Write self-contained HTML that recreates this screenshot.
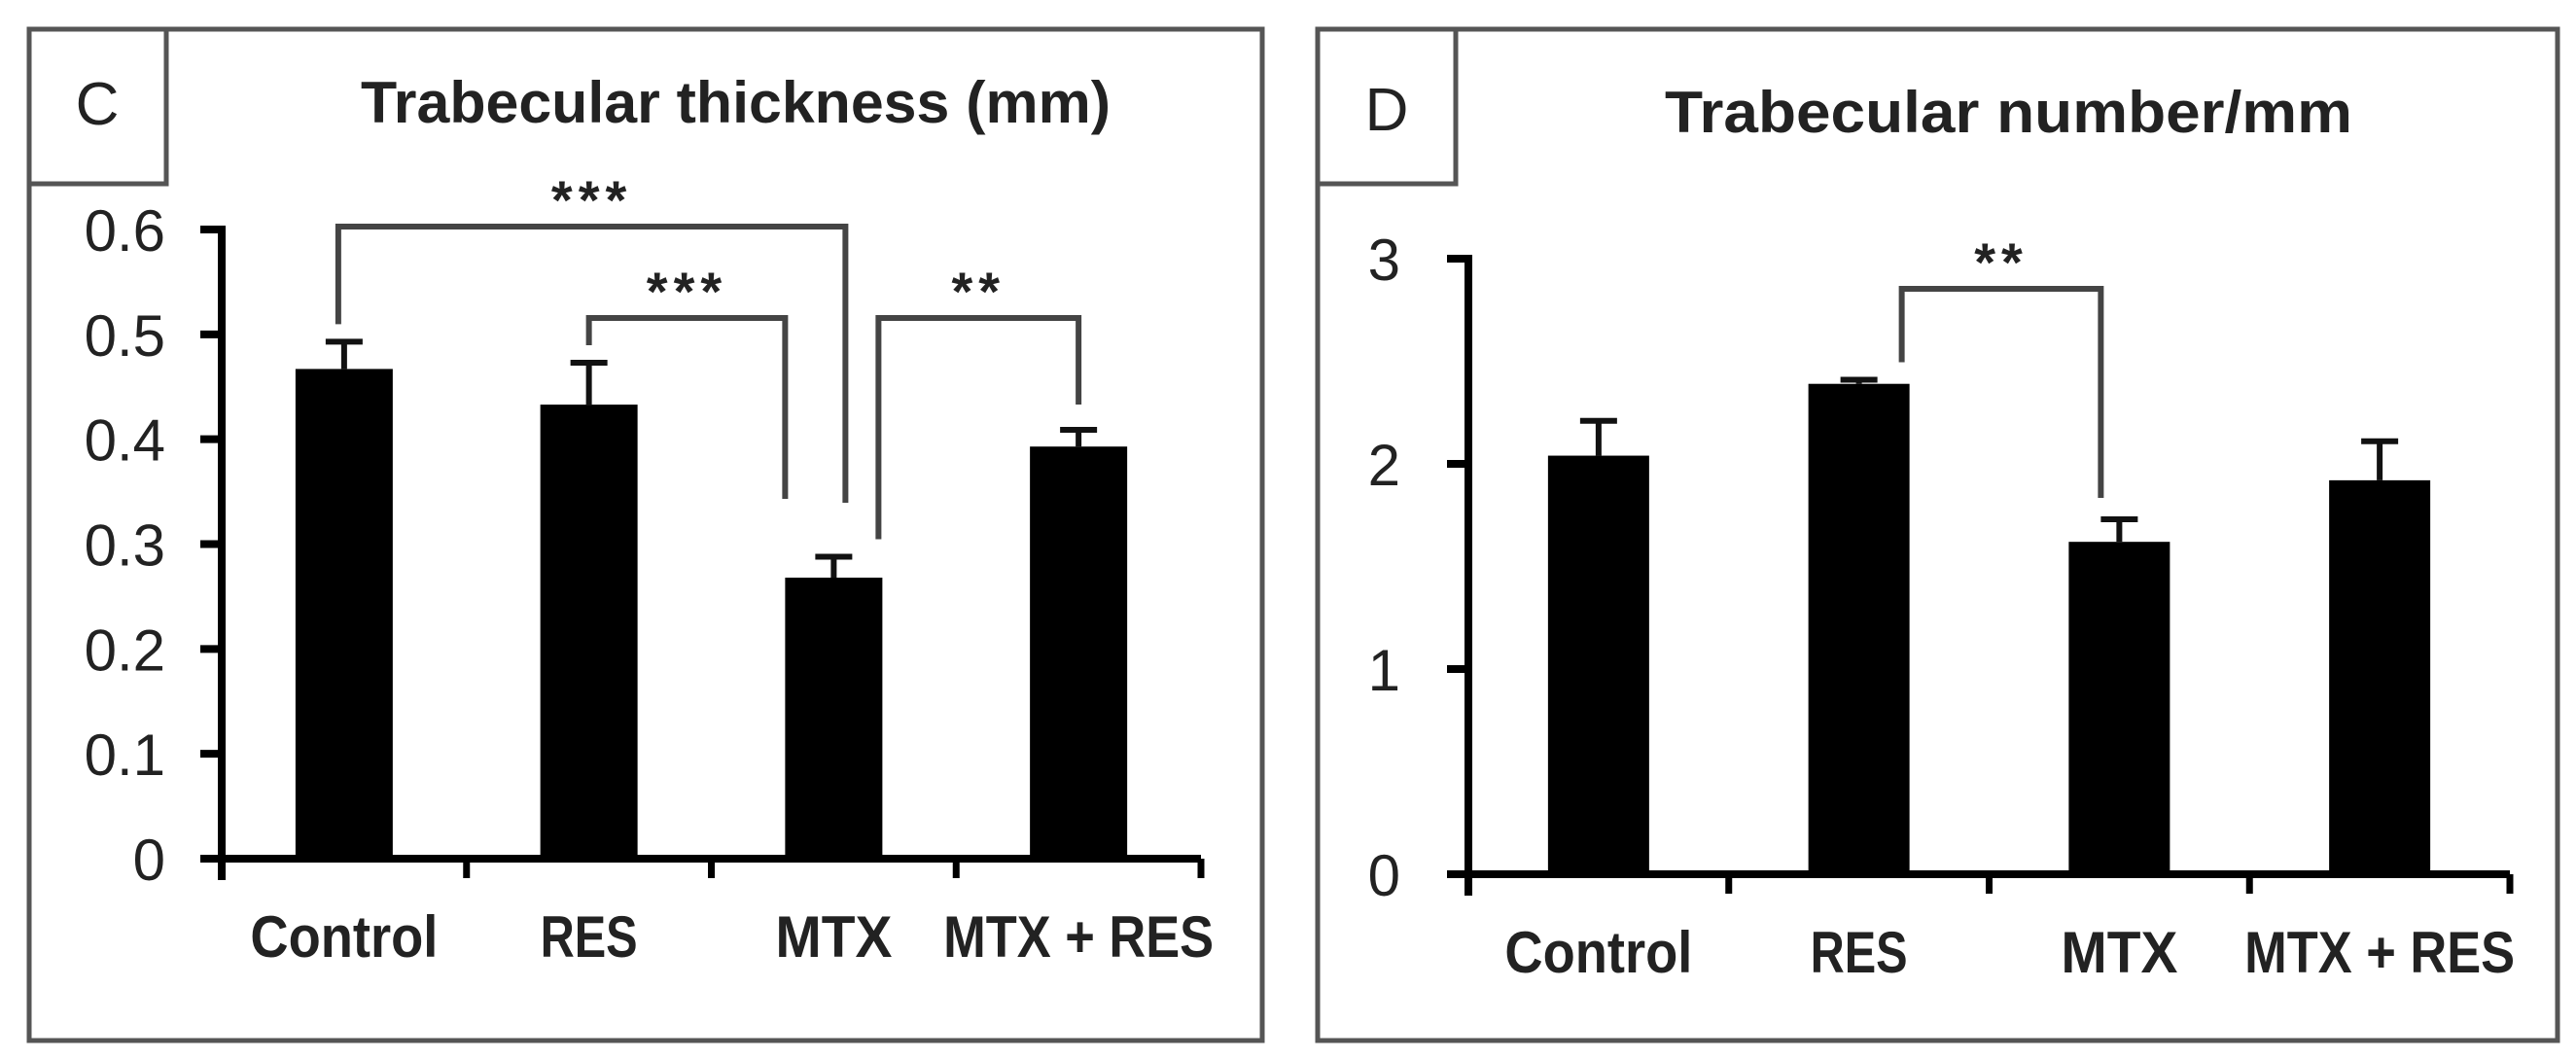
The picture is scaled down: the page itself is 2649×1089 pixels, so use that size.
<!DOCTYPE html>
<html><head><meta charset="utf-8"><style>
html,body{margin:0;padding:0;background:#fff;}
svg{display:block;}
text{font-family:"Liberation Sans",sans-serif;fill:#222;}
</style></head><body>
<svg id="fig" width="2649" height="1089" viewBox="0 0 2649 1089" xmlns="http://www.w3.org/2000/svg">
<rect x="0" y="0" width="2649" height="1089" fill="#fff"/>
<g id="panelC">
  <rect x="30" y="30" width="1268" height="1040" fill="none" stroke="#555" stroke-width="5"/>
  <rect x="30" y="30" width="141" height="159" fill="none" stroke="#555" stroke-width="5"/>
  <text x="100" y="128" font-size="62" text-anchor="middle" fill="#333">C</text>
  <text x="371" y="126" font-size="60" font-weight="bold" textLength="771" lengthAdjust="spacingAndGlyphs">Trabecular  thickness (mm)</text>
</g>
<g id="panelD">
  <rect x="1355" y="30" width="1275" height="1040" fill="none" stroke="#555" stroke-width="5"/>
  <rect x="1355" y="30" width="142" height="159" fill="none" stroke="#555" stroke-width="5"/>
  <text x="1426" y="134" font-size="62" text-anchor="middle" fill="#333">D</text>
  <text x="1712" y="136" font-size="60" font-weight="bold" textLength="707" lengthAdjust="spacingAndGlyphs">Trabecular  number/mm</text>
</g>
</svg>
<script>
// Panel C data
const catsC = ["Control", "RES", "MTX", "MTX + RES"];
const valsC = [0.467, 0.433, 0.268, 0.393];
const errC = [0.026, 0.040, 0.020, 0.016];
const ticksC = [0, 0.1, 0.2, 0.3, 0.4, 0.5, 0.6];
const tickLabelsC = ["0", "0.1", "0.2", "0.3", "0.4", "0.5", "0.6"];
// significance brackets: [fromIndex, toIndex, label]
const sigFromC = [0, 1, 2];
const sigToC = [2, 2, 3];
const sigLabelC = ["***", "***", "**"];

// Panel D data
const catsD = ["Control", "RES", "MTX", "MTX + RES"];
const valsD = [2.04, 2.39, 1.62, 1.92];
const errD = [0.17, 0.02, 0.11, 0.19];
const ticksD = [0, 1, 2, 3];
const tickLabelsD = ["0", "1", "2", "3"];
const sigFromD = [1];
const sigToD = [2];
const sigLabelD = ["**"];

const NS = "http://www.w3.org/2000/svg";
function mk(parent, tag, attrs) {
  const e = document.createElementNS(NS, tag);
  for (const k in attrs) e.setAttribute(k, attrs[k]);
  parent.appendChild(e);
  return e;
}

function drawPanel(g, cfg) {
  const y = v => cfg.y0 - (v - cfg.vmin) / (cfg.vmax - cfg.vmin) * (cfg.y0 - cfg.y1);
  const band = (cfg.xEnd - cfg.xAxis) / cfg.cats.length;
  const xc = i => cfg.xAxis + band * (i + 0.5);
  // bars
  cfg.vals.forEach((v, i) => {
    const r = mk(g, "rect", {x: xc(i) - cfg.bw / 2, y: y(v), width: cfg.bw, height: cfg.y0 - y(v), fill: "#000"});
    
    
    const top = y(v + cfg.err[i]);
    const e = mk(g, "path", {d: `M${xc(i)} ${y(v)} V${top} M${xc(i) - 19} ${top} H${xc(i) + 19}`, stroke: "#111", "stroke-width": 6, fill: "none"});
    
    
  });
  // y axis
  const ya = mk(g, "path", {d: `M${cfg.xAxis - 22} ${y(cfg.vmax)} H${cfg.xAxis} V${cfg.y0 + 22}`, stroke: "#000", "stroke-width": 8, fill: "none"});
  
  
  cfg.ticks.forEach((t, i) => {
    const tk = mk(g, "line", {x1: cfg.xAxis - 22, x2: cfg.xAxis, y1: y(t), y2: y(t), stroke: "#000", "stroke-width": 8});
    
    
    const tl = mk(g, "text", {x: cfg.labelRight, y: y(t) + 22, "font-size": 60, "text-anchor": "end", fill: "#333"});
    tl.textContent = cfg.tickLabels[i];
    
    
  });
  // x axis
  const xa = mk(g, "line", {x1: cfg.xAxis - 22, x2: cfg.xEnd, y1: cfg.y0, y2: cfg.y0, stroke: "#000", "stroke-width": 8});
  
  
  for (let i = 1; i <= cfg.cats.length; i++) {
    const tk = mk(g, "line", {x1: cfg.xAxis + band * i, x2: cfg.xAxis + band * i, y1: cfg.y0, y2: cfg.y0 + 20, stroke: "#000", "stroke-width": 7});
    
    
  }
  cfg.cats.forEach((c, i) => {
    const t = mk(g, "text", {x: xc(i), y: cfg.y0 + 101, "font-size": 60, "font-weight": "bold", "text-anchor": "middle", textLength: cfg.labelW[i], lengthAdjust: "spacingAndGlyphs"});
    t.textContent = c;
    
    
  });
  // brackets
  cfg.sigFrom.forEach((a, k) => {
    const b = cfg.sigTo[k];
    const by = cfg.brY[k];
    const ay = y(cfg.vals[a] + cfg.err[a]) - 18;
    const byb = cfg.brEnd[k];
    const xa1 = xc(a) + cfg.brOffA[k], xb1 = xc(b) + cfg.brOffB[k];
    const p = mk(g, "path", {d: `M${xa1} ${ay} V${by} H${xb1} V${byb}`, stroke: "#444", "stroke-width": 6, fill: "none"});
    
    
    const s = mk(g, "text", {x: (xa1 + xb1) / 2, y: by - 8, "font-size": 56, "font-weight": "bold", "text-anchor": "middle", fill: "#666", "letter-spacing": 6});
    s.textContent = cfg.sigLabel[k];
    
    
  });
}

drawPanel(document.getElementById("panelC"), {
  prefix: "c", cats: catsC, vals: valsC, err: errC, ticks: ticksC, tickLabels: tickLabelsC,
  vmin: 0, vmax: 0.6, y0: 883, y1: 236, xAxis: 228, xEnd: 1235, bw: 100, labelRight: 170,
  labelW: [193, 100, 120, 278],
  sigFrom: sigFromC, sigTo: sigToC, sigLabel: sigLabelC,
  brY: [233, 327, 327], brEnd: [517, 513, 416],
  brOffA: [-6, 0, 46], brOffB: [12, -50, 0]
});
drawPanel(document.getElementById("panelD"), {
  prefix: "d", cats: catsD, vals: valsD, err: errD, ticks: ticksD, tickLabels: tickLabelsD,
  vmin: 0, vmax: 3, y0: 899, y1: 266, xAxis: 1510, xEnd: 2581, bw: 104, labelRight: 1440,
  labelW: [193, 100, 120, 278],
  sigFrom: sigFromD, sigTo: sigToD, sigLabel: sigLabelD,
  brY: [297], brEnd: [512],
  brOffA: [44], brOffB: [-19]
});
</script>
</body></html>
